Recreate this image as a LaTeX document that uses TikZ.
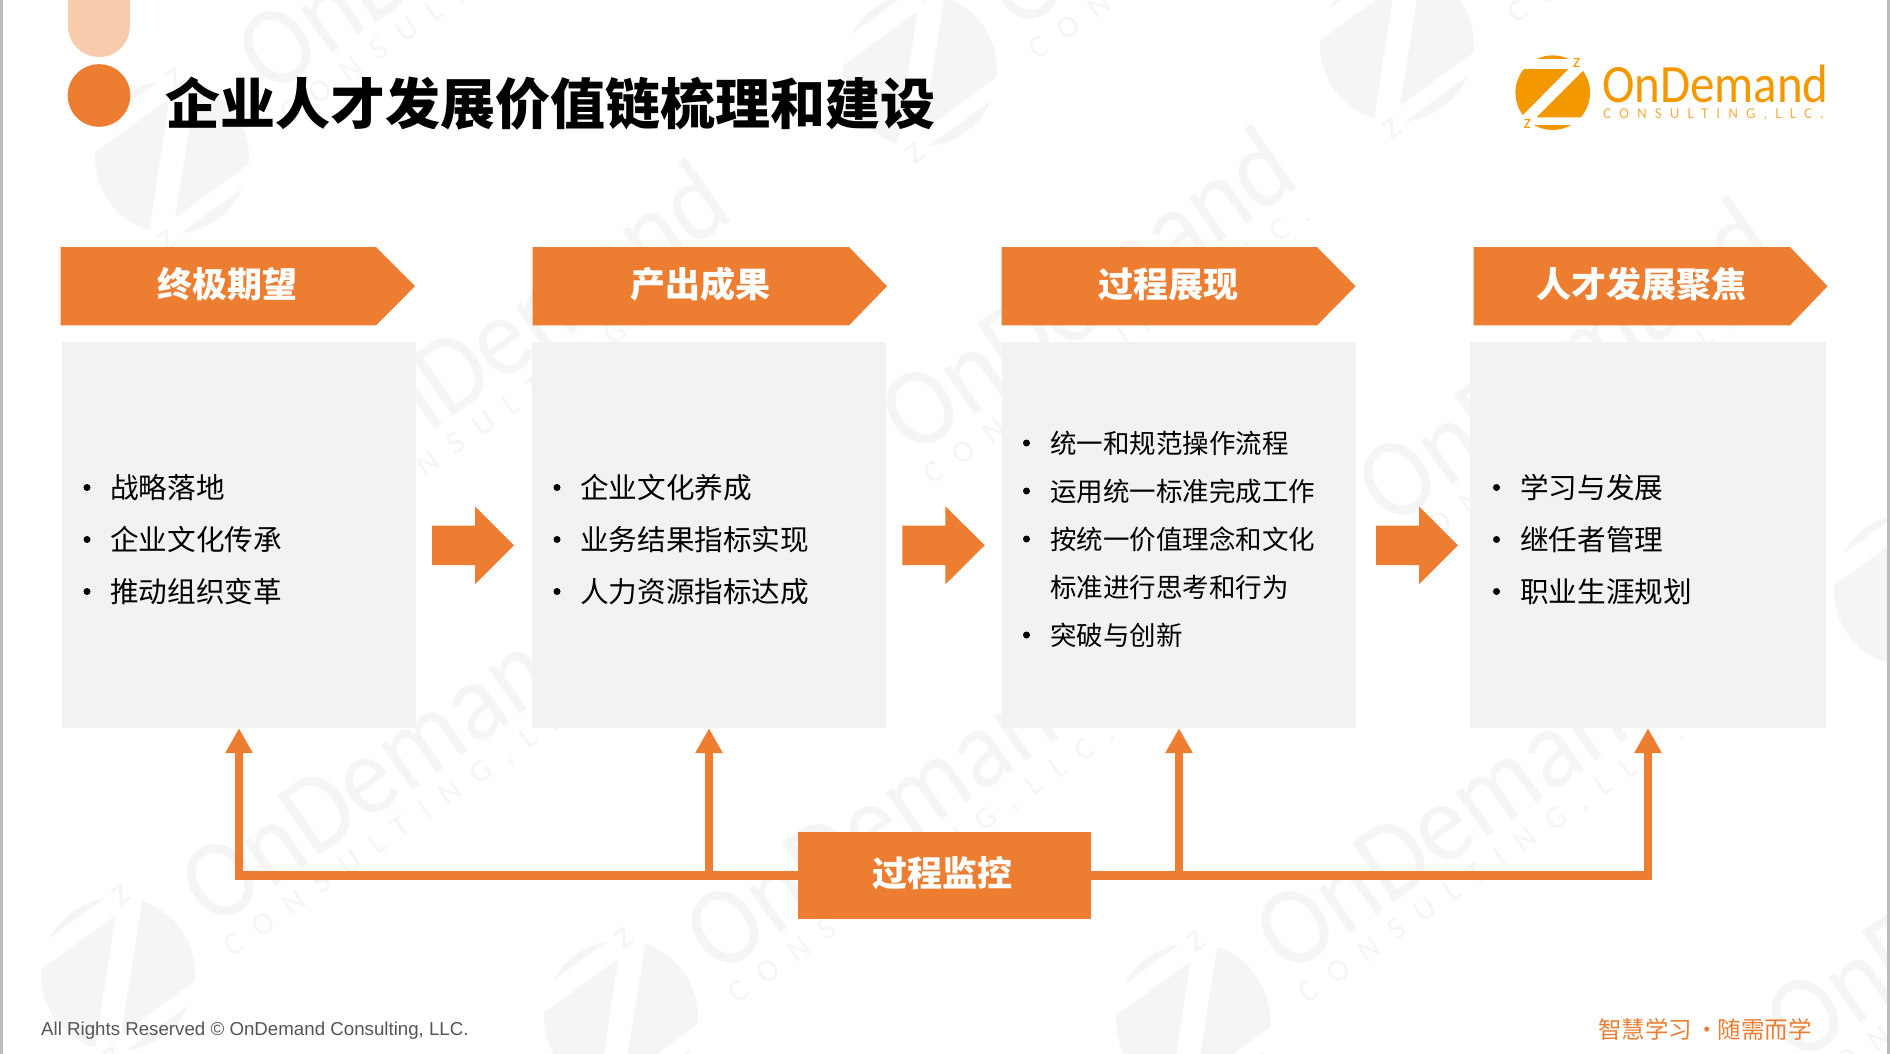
\documentclass[tikz,border=0pt]{standalone}
\usepackage{fontspec}
\usetikzlibrary{arrows.meta}
\setmainfont{Noto Sans CJK SC}
\newfontfamily\latofont{Carlito}
\newfontfamily\latospaced{Carlito}[LetterSpace=54]
\newfontfamily\arialfont{Liberation Sans}
\newcommand\pxfont[1]{\fontsize{#1pt}{#1pt}\selectfont}
\definecolor{orangeM}{HTML}{ED7D31}
\definecolor{pillC}{HTML}{F8CBAD}
\definecolor{boxC}{HTML}{F2F2F2}
\definecolor{logoC}{HTML}{F39800}
\definecolor{logoL}{HTML}{F6AE45}
\definecolor{wmC}{HTML}{F5F5F5}
\definecolor{edgeC}{HTML}{BBBBBB}
\definecolor{footC}{HTML}{555555}
\tikzset{
  headshape/.style={fill=orangeM},
  headtext/.style={inner sep=0,text=white,font=\bfseries\pxfont{35}},
  panel/.style={rectangle,fill=boxC,inner sep=0,minimum width=354pt,minimum height=386pt},
  itemtext/.style={anchor=west,inner sep=0,text=black,font=\pxfont{28.6}},
  itemsmall/.style={anchor=west,inner sep=0,text=black,font=\pxfont{26.5}},
  dotmark/.style={circle,fill=black,inner sep=0,minimum size=7pt},
  blockarrow/.style={fill=orangeM},
  flow/.style={draw=orangeM,line width=8.5pt,-{Triangle[length=25pt,width=26pt]}},
}
\newcommand\zmark[6]{%
  \begin{scope}[shift={(#2,#3)},rotate=#5,x=#4pt,y=#4pt]
    \begin{scope}
      \clip (0,0) circle (1);
      \fill[#6] (-1.1,.634) -- (.42,.634) -- (-.80,-.60) -- (-1.1,-.60) -- cycle;
      \fill[#6] (.82,.59) -- (-.43,-.66) -- (1.1,-.66) -- (1.1,.59) -- cycle;
      \fill[#6] (-1.1,.9) -- (1.1,.9) -- (1.1,1.1) -- (-1.1,1.1) -- cycle;
      \fill[#6] (-1.1,-.866) -- (1.1,-.866) -- (1.1,-1.1) -- (-1.1,-1.1) -- cycle;
    \end{scope}
    \node[inner sep=0,rotate=#5,scale=#4/37.3,text=#6,font=\latofont\pxfont{19}] (#1a) at (.64,.80) {z};
    \node[inner sep=0,rotate=#5,scale=#4/37.3,text=#6,font=\latofont\pxfont{19}] (#1b) at (-.68,-.84) {z};
  \end{scope}}
\newcommand\wordmk[6]{%
  \node[anchor=base west,inner sep=0,rotate=#5,scale=#4,xscale=.906,text=#6,font=\latofont\pxfont{54}] (#1a) at (#2,#3) {OnDemand};
  \node[anchor=base west,inner sep=0,rotate=#5,scale=#4,text=#6,font=\latospaced\pxfont{15}] (#1b) at ({#2+16*#4*sin(#5)},{#3+16*#4*cos(#5)}) {CONSULTING,LLC.};}
\begin{document}
\begin{tikzpicture}[x=1pt,y=-1pt]
\useasboundingbox (0,0) rectangle (1890,1054);
\clip (0,0) rectangle (1890,1054);
\fill[white] (0,0) rectangle (1890,1054);
% watermark
\zmark{za}{118}{974}{77}{36}{wmC}
\zmark{zb}{621}{1017}{77}{36}{wmC}
\zmark{zc}{1193}{1020}{77}{36}{wmC}
\zmark{zd}{1911}{590}{77}{36}{wmC}
\zmark{ze}{172}{157}{77}{36}{wmC}
\zmark{zf}{920}{70}{77}{36}{wmC}
\zmark{zg}{1397}{45}{77}{36}{wmC}
\wordmk{wa}{213}{930}{2.1}{35}{wmC}
\wordmk{wb}{718}{977}{2.1}{35}{wmC}
\wordmk{wc}{1288}{977}{2.1}{35}{wmC}
\wordmk{wd}{1798}{1066}{2.1}{35}{wmC}
\wordmk{we}{347}{491}{2.1}{35}{wmC}
\wordmk{wf}{913}{458}{2.1}{35}{wmC}
\wordmk{wg}{1390}{529}{2.1}{35}{wmC}
\wordmk{wh}{270}{97}{2.1}{35}{wmC}
\wordmk{wi}{1018}{33}{2.1}{35}{wmC}
\wordmk{wj}{1497}{-3}{2.1}{35}{wmC}
% page edges
\fill[edgeC] (0,0) rectangle (2.5,1054);
\fill[edgeC] (1887,0) rectangle (1890,1054);
% title marks
\fill[pillC] (68,0) -- (130,0) -- (130,26) arc[start angle=0,end angle=-180,x radius=31,y radius=-31] -- cycle;
\fill[orangeM] (99,95.5) circle (31.3);
\node[anchor=west,inner sep=0,text=black,font=\bfseries\pxfont{55}] (title) at (165,103.5) {企业人才发展价值链梳理和建设};
% logo
\zmark{lg}{1552.7}{92.7}{37.3}{0}{logoC}
\node[anchor=base west,inner sep=0,xscale=.906,text=logoC,font=\latofont\pxfont{54}] (lgname) at (1602,102.7) {OnDemand};
\node[anchor=base west,inner sep=0,text=logoL,font=\latospaced\pxfont{15}] (lgsub) at (1603,119) {CONSULTING,LLC.};
% headers
\fill[headshape] (60.6,247) -- (376,247) -- (415,286.2) -- (376,325.4) -- (60.6,325.4) -- cycle;
\fill[headshape] (532.5,247) -- (849,247) -- (887,286.2) -- (849,325.4) -- (532.5,325.4) -- cycle;
\fill[headshape] (1001.6,247) -- (1317,247) -- (1355.6,286.2) -- (1317,325.4) -- (1001.6,325.4) -- cycle;
\fill[headshape] (1473.5,247) -- (1790,247) -- (1827.5,286.2) -- (1790,325.4) -- (1473.5,325.4) -- cycle;
\node[headtext] (ha) at (227,284) {终极期望};
\node[headtext] (hb) at (700,284) {产出成果};
\node[headtext] (hc) at (1168,284) {过程展现};
\node[headtext] (hd) at (1641,284) {人才发展聚焦};
% panels
\node[panel] (pa) at (239,535) {};
\node[panel] (pb) at (709,535) {};
\node[panel] (pc) at (1179,535) {};
\node[panel,minimum width=356pt] (pd) at (1648,535) {};
% items
\node[dotmark] (da1) at (87,487.5) {}; \node[itemtext] (ta1) at (110,488) {战略落地};
\node[dotmark] (da2) at (87,539.5) {}; \node[itemtext] (ta2) at (110,539.8) {企业文化传承};
\node[dotmark] (da3) at (87,591.5) {}; \node[itemtext] (ta3) at (110,591.8) {推动组织变革};
\node[dotmark] (db1) at (557,487.5) {}; \node[itemtext] (tb1) at (580,488) {企业文化养成};
\node[dotmark] (db2) at (557,539.5) {}; \node[itemtext] (tb2) at (580,539.8) {业务结果指标实现};
\node[dotmark] (db3) at (557,591.5) {}; \node[itemtext] (tb3) at (580,591.8) {人力资源指标达成};
\node[dotmark] (dc1) at (1026.5,443) {}; \node[itemsmall] (tc1) at (1050,443) {统一和规范操作流程};
\node[dotmark] (dc2) at (1026.5,491) {}; \node[itemsmall] (tc2) at (1050,491) {运用统一标准完成工作};
\node[dotmark] (dc3) at (1026.5,539) {}; \node[itemsmall] (tc3) at (1050,539) {按统一价值理念和文化};
\node[itemsmall] (tc4) at (1050,587) {标准进行思考和行为};
\node[dotmark] (dc5) at (1026.5,635) {}; \node[itemsmall] (tc5) at (1050,635) {突破与创新};
\node[dotmark] (dd1) at (1496.5,487.5) {}; \node[itemtext] (td1) at (1520,488) {学习与发展};
\node[dotmark] (dd2) at (1496.5,539.5) {}; \node[itemtext] (td2) at (1520,539.8) {继任者管理};
\node[dotmark] (dd3) at (1496.5,591.5) {}; \node[itemtext] (td3) at (1520,591.8) {职业生涯规划};
% block arrows
\fill[blockarrow] (432,525.6) -- (475,525.6) -- (475,506.3) -- (514,545.3) -- (475,584.3) -- (475,565) -- (432,565) -- cycle;
\fill[blockarrow] (902.4,525.6) -- (945.4,525.6) -- (945.4,506.3) -- (984.7,545.3) -- (945.4,584.3) -- (945.4,565) -- (902.4,565) -- cycle;
\fill[blockarrow] (1376,525.6) -- (1419,525.6) -- (1419,506.3) -- (1458,545.3) -- (1419,584.3) -- (1419,565) -- (1376,565) -- cycle;
% monitor and connectors
\node[rectangle,fill=orangeM,inner sep=0,minimum width=293pt,minimum height=87pt] (mon) at (944.5,875.5) {};
\draw[flow] (mon.west) -| (pa.south);
\draw[flow] (mon.west) -| (pb.south);
\draw[flow] (mon.east) -| (pc.south);
\draw[flow] (mon.east) -| (pd.south);
\node[headtext] (mt) at (942.6,873) {过程监控};
% footer
\node[anchor=west,inner sep=0,text=footC,font=\arialfont\pxfont{18.7}] (fl) at (41,1031) {All Rights Reserved © OnDemand Consulting, LLC.};
\node[anchor=east,inner sep=0,text=orangeM,font=\pxfont{23.5}] (fr) at (1812,1029) {智慧学习 \kern-1.5pt·\kern-1.5pt 随需而学};
\end{tikzpicture}
\end{document}
